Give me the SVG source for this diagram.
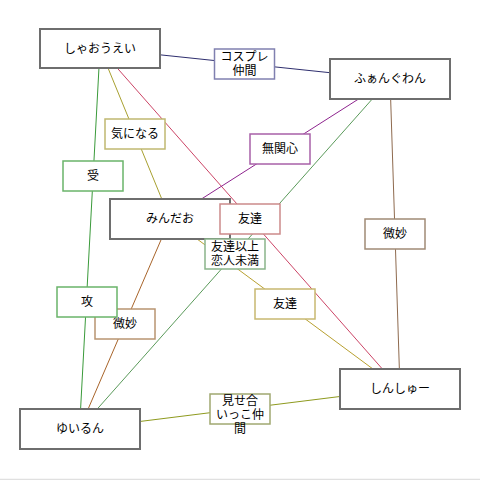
<svg xmlns="http://www.w3.org/2000/svg" width="480" height="480" viewBox="0 0 480 480">
<style>
.node rect{fill:#fff;stroke:#6e6e6e;stroke-width:2}
.lbl rect{fill:#fff;stroke-width:1.5}
text{font-family:"Noto Sans CJK JP","Liberation Sans",sans-serif;font-size:12px;fill:#000;text-anchor:middle}
#edges line{stroke-width:1}
</style>
<rect width="480" height="480" fill="#fff"/>
<line x1="0" y1="479.5" x2="480" y2="479.5" stroke="#e0e0e0" stroke-width="1.5"/>
<g id="edges">
<line x1="100" y1="48.5" x2="390" y2="79" stroke="#2e2e6e"/>
<line x1="100" y1="48.5" x2="170" y2="219" stroke="#a8a030"/>
<line x1="100" y1="48.5" x2="79.5" y2="429" stroke="#3a9a3a"/>
<line x1="100" y1="48.5" x2="400" y2="389" stroke="#cc4466"/>
<line x1="390" y1="79" x2="170" y2="219" stroke="#8e248e"/>
<line x1="390" y1="79" x2="79.5" y2="429" stroke="#5a9a5a"/>
<line x1="390" y1="79" x2="400" y2="389" stroke="#8e6a4e"/>
<line x1="170" y1="219" x2="79.5" y2="429" stroke="#a8642a"/>
<line x1="170" y1="219" x2="400" y2="389" stroke="#b8a030"/>
<line x1="79.5" y1="429" x2="400" y2="389" stroke="#8e9a1e"/>
</g>
<g id="n-shaouei" class="node"><rect x="40" y="29" width="120" height="39"/><text x="100" y="53">しゃおうえい</text></g>
<g id="n-fangwan" class="node"><rect x="330" y="59" width="120" height="40"/><text x="390" y="83">ふぁんぐわん</text></g>
<g id="n-mindao" class="node"><rect x="110" y="199" width="120" height="40"/><text x="170" y="223">みんだお</text></g>
<g id="n-yuirun" class="node"><rect x="20" y="409" width="120" height="40"/><text x="80" y="433">ゆいるん</text></g>
<g id="n-shinshu" class="node"><rect x="340" y="369" width="120" height="40"/><text x="400" y="393">しんしゅー</text></g>
<g id="l-cosplay" class="lbl"><rect x="214.5" y="49" width="60" height="30" stroke="#8080b0"/><text x="244.5" y="61"><tspan x="244.5">コスプレ</tspan><tspan x="244.5" dy="14">仲間</tspan></text></g>
<g id="l-kininaru" class="lbl"><rect x="105" y="119" width="60" height="30" stroke="#c0b870"/><text x="135" y="138">気になる</text></g>
<g id="l-uke" class="lbl"><rect x="63" y="161" width="60" height="30" stroke="#6ab46a"/><text x="93" y="180">受</text></g>
<g id="l-mukanshin" class="lbl"><rect x="250" y="134" width="60" height="30" stroke="#a860a8"/><text x="280" y="153">無関心</text></g>
<g id="l-tomodachi1" class="lbl"><rect x="220" y="204" width="60" height="30" stroke="#cc8a8a"/><text x="250" y="223">友達</text></g>
<g id="l-tomodachiijou" class="lbl"><rect x="205" y="239" width="60" height="30" stroke="#8ab48a"/><text x="235" y="251"><tspan x="235">友達以上</tspan><tspan x="235" dy="14">恋人未満</tspan></text></g>
<g id="l-bimyou1" class="lbl"><rect x="365" y="219" width="60" height="30" stroke="#a08a76"/><text x="395" y="238">微妙</text></g>
<g id="l-bimyou2" class="lbl"><rect x="95" y="309" width="60" height="30" stroke="#b89470"/><text x="125" y="328">微妙</text></g>
<g id="l-seme" class="lbl"><rect x="57" y="287" width="60" height="30" stroke="#6ab46a"/><text x="87" y="306">攻</text></g>
<g id="l-tomodachi2" class="lbl"><rect x="255" y="289" width="60" height="30" stroke="#c8b870"/><text x="285" y="308">友達</text></g>
<g id="l-misease" class="lbl"><rect x="210" y="394" width="60" height="30" stroke="#a0a870"/><text x="240" y="405"><tspan x="240">見せ合</tspan><tspan x="240" dy="14">いっこ仲</tspan><tspan x="240" dy="14">間</tspan></text></g>
</svg>
